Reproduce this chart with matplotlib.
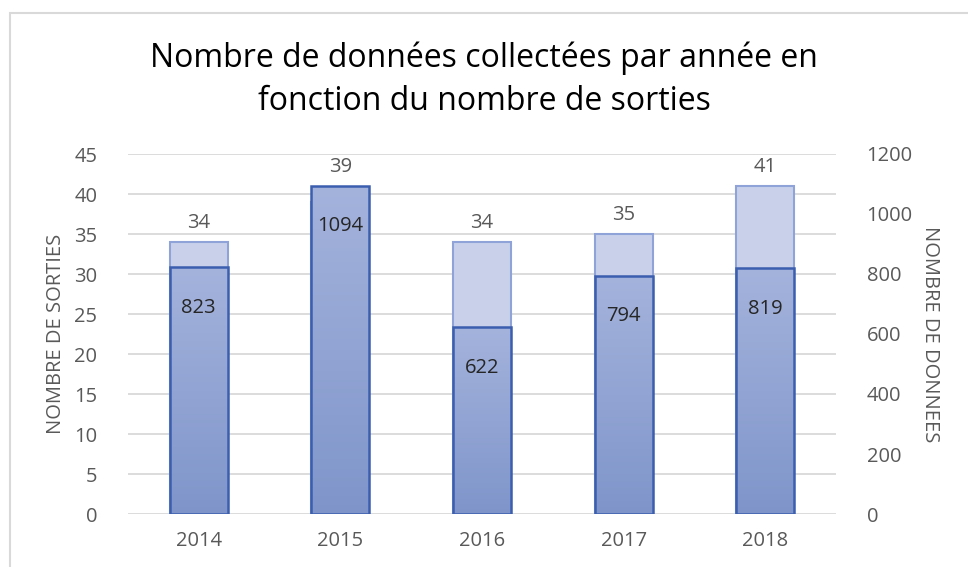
import numpy as np
import matplotlib.pyplot as plt
from matplotlib.colors import LinearSegmentedColormap
from matplotlib.patches import Rectangle

annees = ['2014', '2015', '2016', '2017', '2018']
sorties = [34, 39, 34, 35, 41]
donnees = [823, 1094, 622, 794, 819]

plt.rcParams['font.family'] = ['Open Sans', 'DejaVu Sans']

fig = plt.figure(figsize=(9.68, 5.67), dpi=100)
ax = fig.add_axes([128 / 968, 1 - 514 / 567, 708 / 968, 360 / 567])
ax2 = ax.twinx()

x = np.arange(len(annees))
w = 0.41
ymax_g, ymax_d = 45, 1200

# barres claires : nombre de sorties
ax.bar(x, sorties, w, color='#C9D1EA', edgecolor='#8FA3D8', linewidth=1.5, zorder=2)
for xi, s, d in zip(x, sorties, donnees):
    haut = max(s, d * ymax_g / ymax_d)
    ax.text(xi, haut + 2.4, str(s), ha='center', va='center', fontsize=14.5, color='#595959')

# barres foncees avec degrade : nombre de donnees
cmap = LinearSegmentedColormap.from_list('deg', ['#7F95CA', '#A4B3DC'])
grad = np.linspace(0, 1, 256).reshape(-1, 1)
b2 = ax2.bar(x, donnees, w, color='none', edgecolor='#3B5EAE', linewidth=1.8, zorder=3)
for rect in b2:
    x0, h = rect.get_x(), rect.get_height()
    im = ax2.imshow(grad, cmap=cmap, extent=[x0, x0 + w, 0, h], origin='lower',
                    aspect='auto', zorder=2.5)
    im.set_clip_path(rect)
for xi, v in zip(x, donnees):
    ax2.text(xi, v - 135, str(v), ha='center', va='center', fontsize=14.5, color='#262626')

ax.set_xlim(-0.5, len(annees) - 0.5)
ax.set_ylim(0, ymax_g)
ax2.set_ylim(0, ymax_d)
ax.set_yticks(np.arange(0, 46, 5))
ax2.set_yticks(np.arange(0, 1201, 200))
ax.set_xticks(x)
ax.set_xticklabels(annees)

ax.grid(axis='y', color='#D9D9D9', linewidth=1.3, zorder=0)
ax.set_axisbelow(True)
for a in (ax, ax2):
    for s in a.spines.values():
        s.set_visible(False)
    a.tick_params(length=0, labelsize=14.5, labelcolor='#595959')
ax.tick_params(axis='y', pad=22)
ax2.tick_params(axis='y', pad=22)
ax.tick_params(axis='x', pad=12)

ax.set_ylabel('NOMBRE DE SORTIES', fontsize=14.5, color='#595959', labelpad=6)
ax2.set_ylabel('NOMBRE DE DONNEES', fontsize=14.5, color='#595959', rotation=270, labelpad=20)

fig.text(0.5, 1 - 80 / 567, 'Nombre de données collectées par année en\nfonction du nombre de sorties',
         ha='center', va='center', fontsize=23, color='#000000', linespacing=1.42)

# cadre du graphique
fig.patches.append(Rectangle((10 / 968, -0.1), 1.2, 1 - 13 / 567 + 0.1, transform=fig.transFigure,
                             fill=False, edgecolor='#D9D9D9', linewidth=1.5))

fig.savefig('out.png', dpi=100)
